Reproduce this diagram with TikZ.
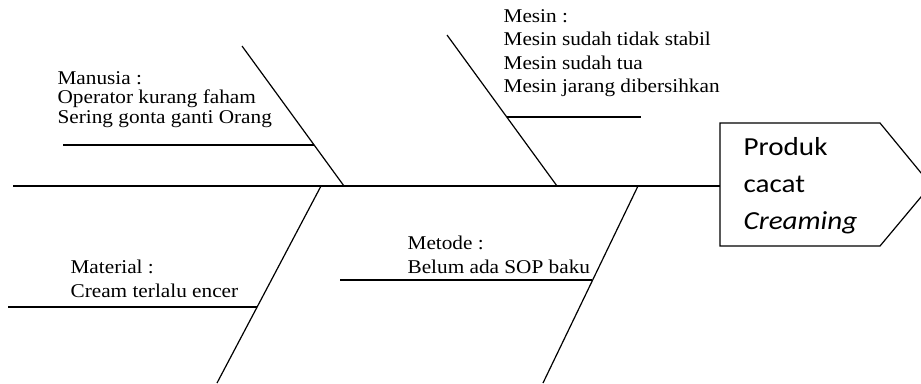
\documentclass[tikz,border=0pt]{standalone}
\usepackage{fontspec}
\newfontfamily\tmsfont[FakeStretch=1.09]{Liberation Serif}
\newfontfamily\headfont[FakeStretch=1.12]{Carlito}
\begin{document}
\begin{tikzpicture}[x=1pt,y=-1pt,line width=1.2pt,
  lbl/.style={anchor=base west,inner sep=0pt,font=\tmsfont\fontsize{19.5}{20}\selectfont},
  hd/.style={anchor=base west,inner sep=0pt,font=\headfont\fontsize{26}{30}\selectfont},
  bone/.style={draw,line width=1.2pt}]
\useasboundingbox (0,0) rectangle (921,383);
\clip (0,0) rectangle (921,383);
% spine and head
\coordinate (tail) at (13,186);
\coordinate (head) at (720,186);
\coordinate (b1) at (720,123);
\coordinate (b2) at (880,123);
\coordinate (b3) at (931,185);
\coordinate (b4) at (880,246);
\coordinate (b5) at (720,246);
\draw[bone] (b1) -- (b2) -- (b3) -- (b4) -- (b5) -- cycle;
\draw[bone] (tail) -- (head);
% Manusia
\coordinate (ma) at (242,46);
\coordinate (mb) at (344,186);
\coordinate (ms) at (63,145);
\coordinate (me) at (314,145);
\draw[bone] (ma) -- (mb);
\draw[bone] (ms) -- (me);
% Mesin
\coordinate (sa) at (447,35);
\coordinate (sb) at (557,186);
\coordinate (ss) at (507,117);
\coordinate (se) at (641,117);
\draw[bone] (sa) -- (sb);
\draw[bone] (ss) -- (se);
% Material
\coordinate (ta) at (321,186);
\coordinate (tb) at (217,383);
\coordinate (ts) at (8,307);
\coordinate (te) at (257,307);
\draw[bone] (ta) -- (tb);
\draw[bone] (ts) -- (te);
% Metode
\coordinate (da) at (638,186);
\coordinate (db) at (543,383);
\coordinate (ds) at (340,280);
\coordinate (de) at (592,280);
\draw[bone] (da) -- (db);
\draw[bone] (ds) -- (de);
% texts
\node[lbl] (m1) at (57,84) {Manusia :};
\node[lbl] (m2) at (57,103.5) {Operator kurang faham};
\node[lbl] (m3) at (57,123) {Sering gonta ganti Orang};
\node[lbl] (s1) at (503,22) {Mesin :};
\node[lbl] (s2) at (503,45.5) {Mesin sudah tidak stabil};
\node[lbl] (s3) at (503,69) {Mesin sudah tua};
\node[lbl] (s4) at (503,92) {Mesin jarang dibersihkan};
\node[lbl] (t1) at (70,273) {Material :};
\node[lbl] (t2) at (70,297) {Cream terlalu encer};
\node[lbl] (d1) at (407,249) {Metode :};
\node[lbl] (d2) at (407,273) {Belum ada SOP baku};
\node[hd] (h1) at (743,155) {Produk};
\node[hd] (h2) at (743,192) {cacat};
\node[hd] (h3) at (743,229) {\itshape Creaming};
\end{tikzpicture}
\end{document}
